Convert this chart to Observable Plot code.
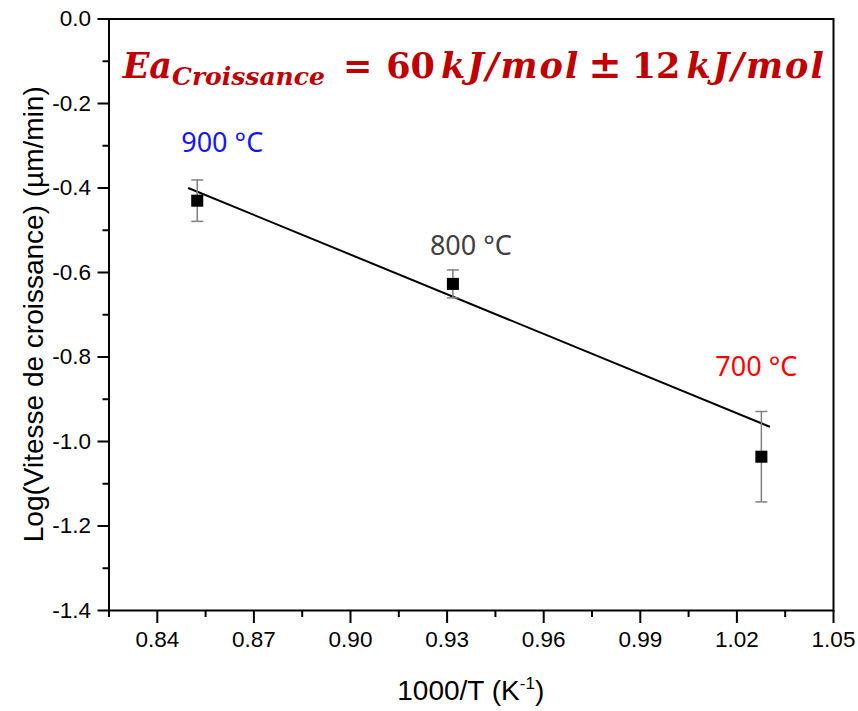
<!DOCTYPE html>
<html>
<head>
<meta charset="utf-8">
<script src="https://cdn.jsdelivr.net/npm/d3@7"></script>
<script src="https://cdn.jsdelivr.net/npm/@observablehq/plot@0.6"></script>
<style>
  body { margin: 0; background: #fff; }
  svg { display: block; }
</style>
</head>
<body>
<div id="chart"></div>
<script>
// Growth rate vs inverse temperature (Arrhenius plot)
const temperatures = ["900 °C", "800 °C", "700 °C"];
const labelColors = ["#1414ff", "#404040", "#ff0000"];
const inverseT = [0.8524, 0.9318, 1.0276];      // 1000/T (K^-1)
const logRate = [-0.430, -0.627, -1.036];       // log(µm/min)
const logRateErr = [0.049, 0.033, 0.107];

// Arrhenius fit
const fitInverseT = [0.8498, 1.0300];
const fitLogRate = [-0.4005, -0.9645];
const activationEnergy = 60;     // kJ/mol
const activationEnergyErr = 12;  // kJ/mol

// Axis ticks
const xMajorTicks = [0.84, 0.87, 0.90, 0.93, 0.96, 0.99, 1.02, 1.05];
const xMinorTicks = [0.825, 0.855, 0.885, 0.915, 0.945, 0.975, 1.005, 1.035];
const yMajorTicks = [0, -0.2, -0.4, -0.6, -0.8, -1.0, -1.2, -1.4];
const yMinorTicks = [-0.1, -0.3, -0.5, -0.7, -0.9, -1.1, -1.3];

const points = temperatures.map((t, i) => ({
  t, x: inverseT[i], y: logRate[i], e: logRateErr[i], color: labelColors[i]
}));
const fit = fitInverseT.map((x, i) => ({x, y: fitLogRate[i]}));

// label offsets (px) relative to each point
const labelOffsets = [[-16, -57], [-23, -38], [-46, -89]];

// horizontal cap for error bars
const capSymbol = {draw(ctx) { ctx.moveTo(-6, 0); ctx.lineTo(6, 0); }};

const sansFont = "'Liberation Sans', Arial, sans-serif";

const chart = Plot.plot({
  width: 858,
  height: 711,
  marginLeft: 108.5,
  marginRight: 25,
  marginTop: 18.5,
  marginBottom: 101,
  x: {domain: [0.825, 1.05]},
  y: {domain: [-1.4, 0]},
  style: {fontFamily: sansFont, color: "#000", background: "#fff"},
  marks: [
    Plot.axisX({ticks: xMinorTicks, tickSize: 7, strokeWidth: 2, tickFormat: () => "", label: null}),
    Plot.axisX({ticks: xMajorTicks, tickSize: 13, tickPadding: 8, strokeWidth: 2, fontSize: 22.5,
      tickFormat: d => d.toFixed(2), label: null}),
    Plot.axisY({ticks: yMinorTicks, tickSize: 6, strokeWidth: 2, tickFormat: () => "", label: null}),
    Plot.axisY({ticks: yMajorTicks, tickSize: 11, tickPadding: 7, strokeWidth: 2, fontSize: 22.5,
      tickFormat: d => Math.abs(d) < 1e-9 ? "0.0" : d.toFixed(1), label: null}),
    Plot.frame({stroke: "#000", strokeWidth: 2}),
    Plot.line(fit, {x: "x", y: "y", stroke: "#000", strokeWidth: 2}),
    Plot.ruleX(points, {x: "x", y1: d => d.y - d.e, y2: d => d.y + d.e, stroke: "#808080", strokeWidth: 1.5}),
    Plot.dot(points, {x: "x", y: d => d.y + d.e, symbol: capSymbol, stroke: "#808080", strokeWidth: 1.5, fill: "none"}),
    Plot.dot(points, {x: "x", y: d => d.y - d.e, symbol: capSymbol, stroke: "#808080", strokeWidth: 1.5, fill: "none"}),
    Plot.dot(points, {x: "x", y: "y", symbol: "square", r: 6.8, fill: "#000", stroke: "none"}),
    ...points.map((p, i) => Plot.text([p], {
      x: "x", y: "y", text: "t", fill: p.color,
      textAnchor: "start", dx: labelOffsets[i][0], dy: labelOffsets[i][1],
      fontSize: 27, fontFamily: "'Noto Sans', 'Open Sans', sans-serif"
    }))
  ]
});

document.getElementById("chart").appendChild(chart);

const svg = d3.select(chart);
const sx = chart.scale("x"), sy = chart.scale("y");

// tick label font, set directly on each label
svg.selectAll("g[aria-label$='tick label'] text")
  .style("font-size", "22.5px")
  .style("font-family", sansFont);

// Activation energy annotation
const ea = svg.append("text")
  .attr("x", sx.apply(0.8294))
  .attr("y", sy.apply(-0.14))
  .attr("fill", "#c00000")
  .attr("text-anchor", "start")
  .style("font-family", "'DejaVu Serif', 'Liberation Serif', serif")
  .style("font-weight", "bold")
  .style("font-size", "35px");
ea.append("tspan").style("font-style", "italic").text("Ea");
ea.append("tspan").style("font-style", "italic").style("font-size", "25px").attr("dy", 7).text("Croissance");
ea.append("tspan").attr("dy", -7).attr("dx", 18).text("=");
ea.append("tspan").attr("dx", 14).text(String(activationEnergy));
ea.append("tspan").attr("dx", 6).style("font-style", "italic").style("letter-spacing", "2px").text("kJ/mol");
ea.append("tspan").attr("dx", 8).style("font-size", "40px").text("±");
ea.append("tspan").attr("dx", 10).text(String(activationEnergyErr));
ea.append("tspan").attr("dx", 6).style("font-style", "italic").style("letter-spacing", "2px").text("kJ/mol");

// Axis titles
svg.append("text")
  .attr("transform", `translate(33,${(sy.apply(0) + sy.apply(-1.4)) / 2}) rotate(-90)`)
  .attr("text-anchor", "middle")
  .attr("dominant-baseline", "central")
  .style("font-family", sansFont)
  .style("font-size", "28px")
  .text("Log(Vitesse de croissance) (µm/min)");

const xl = svg.append("text")
  .attr("x", (sx.apply(0.825) + sx.apply(1.05)) / 2)
  .attr("y", 700)
  .attr("text-anchor", "middle")
  .style("font-family", sansFont)
  .style("font-size", "28px");
xl.append("tspan").text("1000/T (K");
xl.append("tspan").style("font-size", "17px").attr("dy", -11).text("-1");
xl.append("tspan").attr("dy", 11).text(")");
</script>
</body>
</html>
